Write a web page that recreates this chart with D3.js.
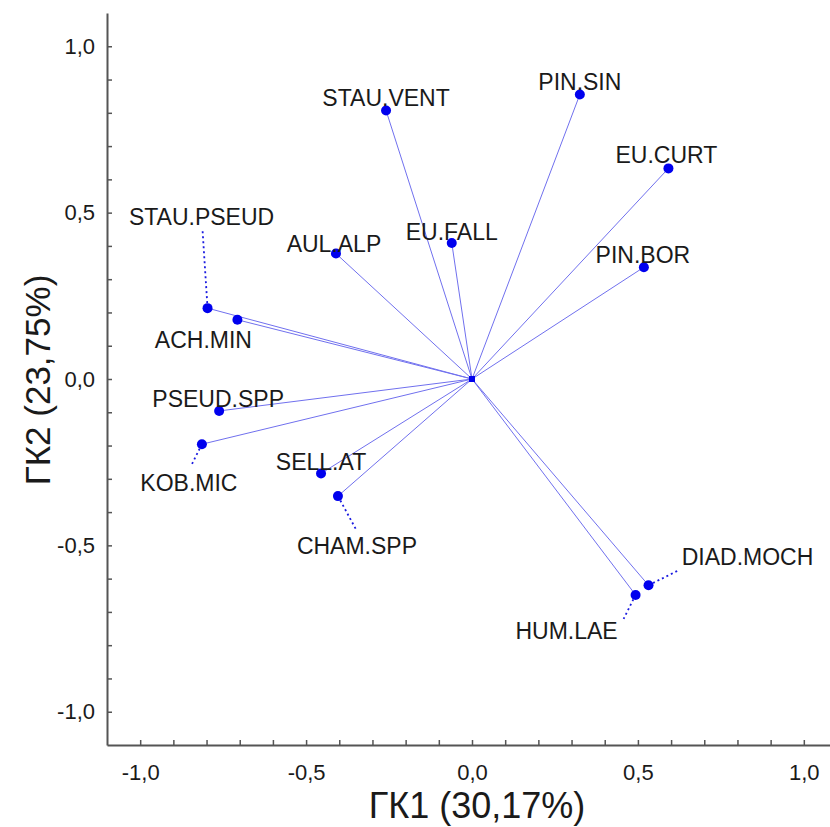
<!DOCTYPE html>
<html lang="ru">
<head>
    <meta charset="UTF-8">
    <title>ГК1 / ГК2</title>
    <script src="https://cdn.jsdelivr.net/npm/d3@7"></script>
    <style>
        body { margin: 0; background: #fff; }
        text { font-family: "Liberation Sans", Arial, sans-serif; fill: #1a1a1a; }
    </style>
</head>
<body>
<div id="chart"></div>
<script>
    // loadings on the first two components
    var species = ["STAU.VENT", "PIN.SIN", "EU.CURT", "EU.FALL", "AUL.ALP", "PIN.BOR", "STAU.PSEUD",
                   "ACH.MIN", "PSEUD.SPP", "KOB.MIC", "SELL.AT", "CHAM.SPP", "HUM.LAE", "DIAD.MOCH"];
    var gk1 = [-0.259, 0.325, 0.592, -0.061, -0.410, 0.518, -0.797,
               -0.707, -0.762, -0.814, -0.455, -0.404, 0.493, 0.532];
    var gk2 = [0.807, 0.855, 0.633, 0.409, 0.377, 0.336, 0.213,
               0.178, -0.096, -0.196, -0.284, -0.352, -0.649, -0.620];
    var tickValues = d3.range(-10, 11).map(function (d) { return d / 10; });
    var xTitle = "ГК1 (30,17%)";
    var yTitle = "ГК2 (23,75%)";

    // label placement (pixels from the point), leader end for the moved labels
    var labelPos = {
        "STAU.VENT": [0, -4], "PIN.SIN": [0, -5], "EU.CURT": [-2, -5], "EU.FALL": [0, -3],
        "AUL.ALP": [-2, -2], "PIN.BOR": [-1, -4], "STAU.PSEUD": [-6, -83], "ACH.MIN": [-34, 28],
        "PSEUD.SPP": [-1, -4], "KOB.MIC": [-13, 47], "SELL.AT": [0, -3], "CHAM.SPP": [19, 58],
        "HUM.LAE": [-69, 44], "DIAD.MOCH": [99, -20]
    };
    var leaders = {
        "STAU.PSEUD": [-5, -78], "KOB.MIC": [-11, 22], "CHAM.SPP": [19, 35],
        "HUM.LAE": [-12, 24], "DIAD.MOCH": [30, -15]
    };

    var width = 830;
    var height = 827;

    var svg = d3.select("#chart")
            .append("svg")
            .attr("width", width)
            .attr("height", height);

    var xScale = d3.scaleLinear()
            .domain([-1.1, 1.1])
            .range([107, 837]);

    var yScale = d3.scaleLinear()
            .domain([-1.1, 1.1])
            .range([745, 13]);

    var fmt = function (d) {
        if (Math.abs(Math.round(d * 10) % 5) !== 0) return "";
        return d3.format(".1f")(d).replace(".", ",").replace("−", "-");
    };

    var xAxis = d3.axisBottom(xScale)
            .tickValues(tickValues)
            .tickSizeInner(-5)
            .tickSizeOuter(0)
            .tickPadding(19)
            .tickFormat(fmt);

    var yAxis = d3.axisLeft(yScale)
            .tickValues(tickValues)
            .tickSizeInner(-5)
            .tickSizeOuter(0)
            .tickPadding(12)
            .tickFormat(fmt);

    var gx = svg.append("g")
            .attr("transform", "translate(0," + yScale(-1.1) + ")")
            .call(xAxis);

    var gy = svg.append("g")
            .attr("transform", "translate(" + xScale(-1.1) + ",0)")
            .call(yAxis);

    [gx, gy].forEach(function (g) {
        g.select(".domain").attr("stroke", "#555").attr("stroke-width", 2);
        g.selectAll(".tick line").attr("stroke", "#555").attr("stroke-width", 1.5);
        g.selectAll(".tick text").style("font-size", "22px").attr("fill", "#1a1a1a");
    });

    // vectors from the origin
    svg.append("g").selectAll("line")
            .data(species)
            .enter()
            .append("line")
            .attr("x1", xScale(0))
            .attr("y1", yScale(0))
            .attr("x2", function (d, i) { return xScale(gk1[i]); })
            .attr("y2", function (d, i) { return yScale(gk2[i]); })
            .attr("stroke", "#7070ee")
            .attr("stroke-width", 1);

    // dotted leaders
    svg.append("g").selectAll("line")
            .data(species.filter(function (d) { return leaders[d]; }))
            .enter()
            .append("line")
            .attr("x1", function (d) { return xScale(gk1[species.indexOf(d)]); })
            .attr("y1", function (d) { return yScale(gk2[species.indexOf(d)]); })
            .attr("x2", function (d) { return xScale(gk1[species.indexOf(d)]) + leaders[d][0]; })
            .attr("y2", function (d) { return yScale(gk2[species.indexOf(d)]) + leaders[d][1]; })
            .attr("stroke", "#1a1ae0")
            .attr("stroke-width", 1.8)
            .attr("stroke-dasharray", "2,3");

    svg.append("rect")
            .attr("x", xScale(0) - 3)
            .attr("y", yScale(0) - 3)
            .attr("width", 6)
            .attr("height", 6)
            .attr("fill", "#0000ee");

    svg.append("g").selectAll("circle")
            .data(species)
            .enter()
            .append("circle")
            .attr("cx", function (d, i) { return xScale(gk1[i]); })
            .attr("cy", function (d, i) { return yScale(gk2[i]); })
            .attr("r", 5)
            .attr("fill", "#0000ee");

    svg.append("g").selectAll("text")
            .data(species)
            .enter()
            .append("text")
            .attr("x", function (d, i) { return xScale(gk1[i]) + labelPos[d][0]; })
            .attr("y", function (d, i) { return yScale(gk2[i]) + labelPos[d][1]; })
            .attr("text-anchor", "middle")
            .style("font-size", "23px")
            .text(function (d) { return d; });

    svg.append("text")
            .attr("x", 477)
            .attr("y", 818)
            .attr("text-anchor", "middle")
            .style("font-size", "36px")
            .text(xTitle);

    svg.append("text")
            .attr("transform", "translate(50,380) rotate(-90)")
            .attr("text-anchor", "middle")
            .style("font-size", "35px")
            .text(yTitle);
</script>
</body>
</html>
